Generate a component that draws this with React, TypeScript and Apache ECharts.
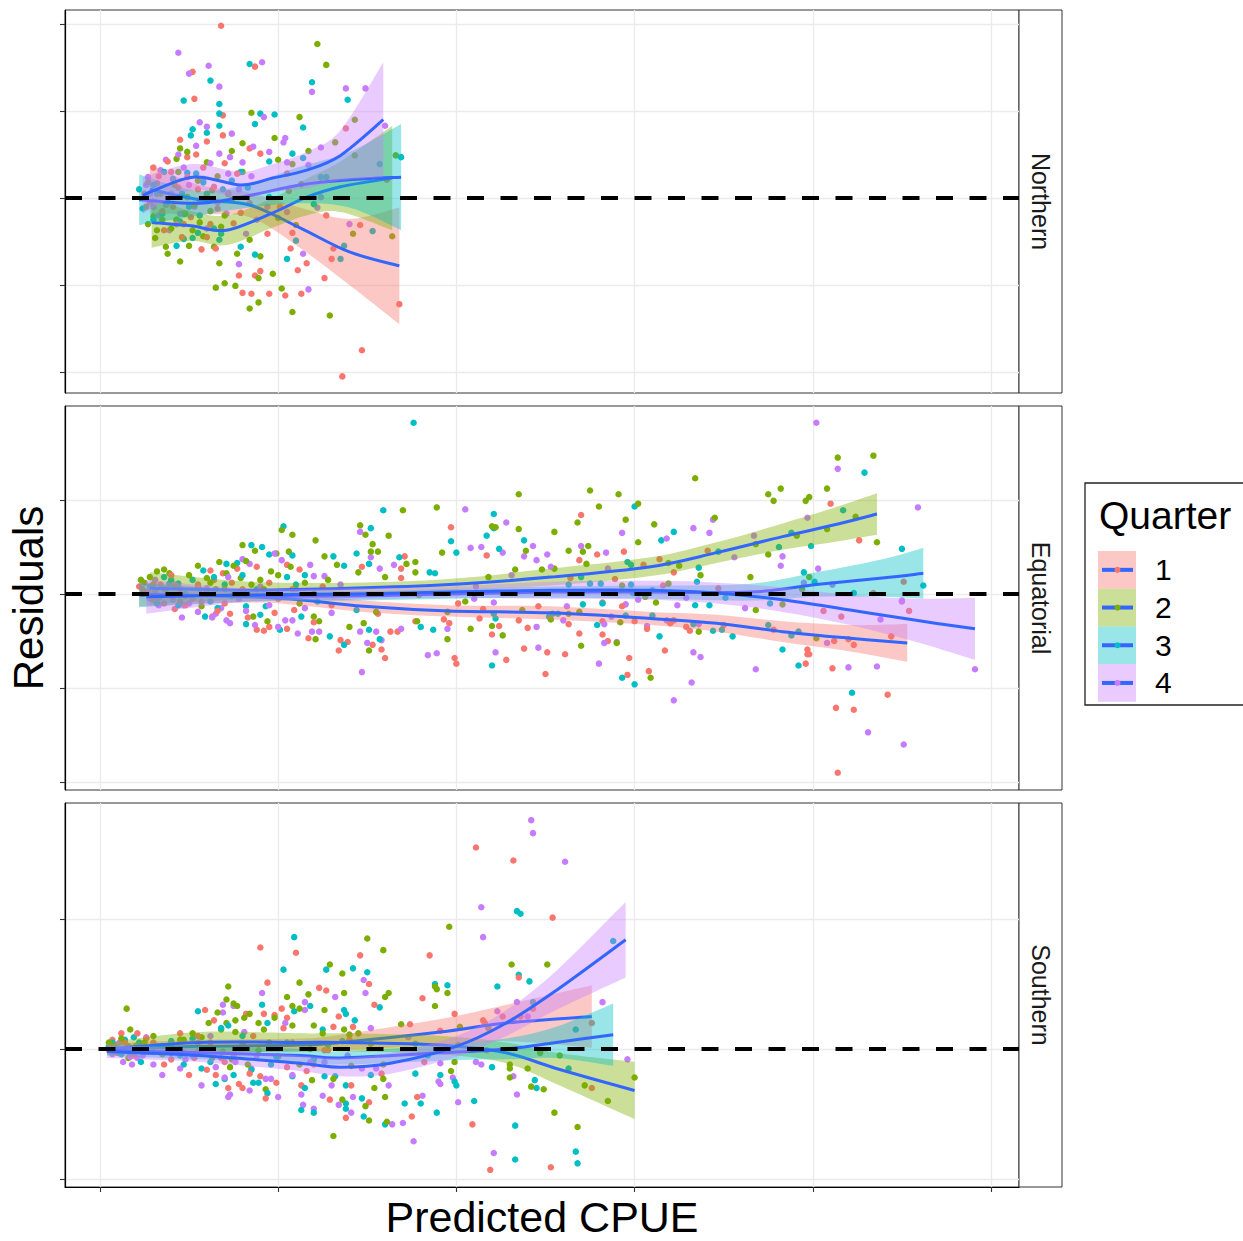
import React, { useEffect, useRef } from "react";
import * as echarts from "echarts";

// ---- groups and styling -------------------------------------------------
const QUARTERS = ["1", "2", "3", "4"];
const QUARTER_COLORS = ["#F8766D", "#7CAE00", "#00BFC4", "#C77CFF"];
const SMOOTH_COLOR = "#3366FF";
const REGIONS = ["Northern", "Equatorial", "Southern"];
const FONT = "'Liberation Sans', Arial, Helvetica, sans-serif";

// ---- axes (tick labels are blank, only tick positions are drawn) --------
const X_TICKS = [0, 1, 2, 3, 4, 5];
const X_MIN = -0.196;
const X_MAX = 5.157;
const NORTHERN_Y_TICKS = [-2, -1, 0, 1, 2];
const EQUATORIAL_Y_TICKS = [-2, -1, 0, 1, 2];
const SOUTHERN_Y_TICKS = [-1, 0, 1];
const NORTHERN_Y_RANGE = [-2.241, 2.161];
const EQUATORIAL_Y_RANGE = [-2.083, 1.998];
const SOUTHERN_Y_RANGE = [-1.062, 1.892];

// ---- residuals: [predicted CPUE, residual] ------------------------------
const northernQ1 = [[0.68,1.98],[0.52,1.45],[0.87,1.51],[0.53,1.14],[0.69,0.95],[0.45,0.67],[0.60,0.65],[0.69,0.72],[0.84,0.57],[0.30,0.35],[0.49,0.47],[1.05,0.28],[1.06,0.08],[1.38,0.80],[1.61,0.21],[1.27,-0.20],[1.46,-0.31],[1.31,-0.58],[1.30,-0.70],[1.26,-0.92],[1.16,-0.75],[1.11,-0.83],[1.07,-0.58],[0.95,-1.10],[1.04,-1.12],[1.13,-1.10],[0.85,-1.10],[0.80,-1.09],[0.78,-0.89],[0.87,-0.89],[0.90,-0.84],[1.68,-1.22],[1.47,-1.75],[1.36,-2.05],[0.79,-0.17],[0.75,-0.29],[0.57,-0.59],[0.65,-0.58],[0.36,-0.37],[0.41,-0.10],[0.64,0.13],[0.32,0.17],[0.94,-0.41],[1.01,-0.10],[0.84,-0.06],[1.08,-0.40],[0.49,0.24],[0.77,0.28],[0.90,0.51],[0.25,0.05],[0.40,0.30],[0.55,0.10],[0.62,-0.30],[0.70,0.40],[0.35,-0.15],[0.46,-0.45],[0.28,-0.05],[0.33,0.25],[0.44,0.12],[0.51,-0.22],[0.58,0.35],[0.66,-0.12],[0.72,0.05],[0.38,0.42],[0.47,-0.30],[0.60,-0.45],[0.27,0.18],[0.54,0.50]];
const northernQ2 = [[1.22,1.77],[1.27,1.53],[0.85,0.98],[1.12,0.93],[1.43,0.90],[1.32,0.64],[1.43,0.49],[1.66,0.49],[0.98,0.69],[0.80,0.63],[0.74,0.54],[0.49,0.53],[0.45,0.57],[0.43,0.45],[0.60,0.41],[1.08,0.39],[1.17,0.54],[1.13,0.16],[1.00,0.44],[0.80,0.30],[0.63,0.09],[0.49,0.01],[0.30,-0.21],[0.32,-0.37],[0.31,-0.46],[0.37,-0.56],[0.38,-0.64],[0.45,-0.73],[0.43,-0.25],[0.52,-0.37],[0.58,-0.44],[0.64,-0.56],[0.67,-0.75],[0.77,-0.64],[0.84,-0.48],[0.90,-0.67],[0.97,-0.87],[0.89,-0.92],[0.65,-1.03],[0.70,-0.98],[0.76,-1.01],[0.84,-1.27],[0.89,-1.20],[1.02,-1.04],[1.08,-1.31],[1.29,-1.35],[1.42,-0.41],[1.64,-0.44],[1.10,-0.31],[1.00,-0.23],[0.68,-0.33],[0.74,-0.02],[0.26,-0.10],[0.55,0.20],[0.62,-0.15],[0.40,-0.35],[0.27,-0.30],[0.34,0.05],[0.42,0.15],[0.48,-0.18],[0.56,-0.28],[0.60,0.02],[0.70,-0.20],[0.35,-0.25],[0.50,-0.55],[0.66,0.25],[0.44,0.30],[0.53,-0.08]];
const northernQ3 = [[0.84,1.54],[0.62,1.35],[1.19,1.33],[0.47,1.12],[1.39,1.13],[0.67,1.08],[0.67,0.97],[0.90,0.97],[0.98,0.96],[0.87,0.85],[0.67,0.83],[1.14,0.81],[0.52,0.79],[0.51,0.72],[0.60,0.75],[1.08,0.51],[1.14,0.46],[1.57,0.39],[1.69,0.47],[1.24,0.24],[1.27,0.24],[0.49,0.29],[0.54,0.28],[0.79,0.30],[0.95,0.42],[0.22,0.10],[0.24,-0.12],[0.43,-0.25],[0.45,-0.27],[0.47,-0.18],[0.43,-0.55],[0.47,-0.47],[0.52,-0.46],[0.67,-0.48],[0.68,-0.41],[0.79,-0.56],[0.87,-0.65],[1.05,-0.70],[1.10,-0.49],[1.37,-0.55],[1.35,-0.70],[1.53,-0.38],[1.20,-0.07],[0.72,0.05],[0.95,0.01],[0.32,0.05],[0.60,0.05],[0.30,0.15],[0.38,-0.05],[0.56,-0.20],[0.74,0.20],[0.26,0.02],[0.35,-0.18],[0.41,0.22],[0.50,-0.10],[0.58,0.18],[0.64,-0.35],[0.69,0.10],[0.36,0.30],[0.46,0.05],[0.55,-0.40],[0.83,0.12],[0.30,-0.25]];
const northernQ4 = [[0.44,1.67],[0.61,1.52],[0.50,1.43],[0.91,1.56],[0.67,1.28],[1.19,1.22],[1.38,1.26],[1.49,1.26],[0.92,0.93],[0.56,0.87],[0.60,0.82],[0.74,0.74],[1.04,0.69],[1.03,0.64],[1.60,0.83],[1.24,0.58],[1.17,0.38],[0.37,0.44],[0.27,0.24],[0.54,0.60],[0.67,0.51],[0.73,0.47],[0.80,0.41],[0.86,0.59],[1.05,0.41],[0.95,0.53],[1.24,0.01],[1.22,-0.11],[1.40,-0.30],[1.14,-0.64],[1.17,-1.05],[0.78,-0.76],[0.82,-0.41],[0.39,-0.37],[0.45,-0.18],[0.28,0.05],[0.71,-0.18],[0.94,-0.10],[1.05,-0.16],[0.56,-0.02],[0.34,0.32],[0.30,-0.10],[0.50,0.15],[0.62,0.40],[0.85,0.25],[0.43,-0.30],[0.60,-0.35],[0.26,0.15],[0.33,-0.20],[0.40,0.05],[0.47,0.35],[0.53,-0.10],[0.58,0.22],[0.66,-0.05],[0.72,0.28],[0.37,-0.08],[0.44,0.50],[0.78,0.10],[0.88,-0.25]];

const equatorialQ1 = [[1.97,0.71],[2.17,0.41],[1.71,0.40],[1.69,0.27],[1.69,0.17],[1.47,0.29],[1.05,0.31],[1.12,0.26],[0.88,0.29],[0.77,0.27],[0.69,0.22],[0.64,0.15],[0.22,0.08],[0.34,0.10],[0.36,-0.10],[0.42,-0.16],[0.57,-0.08],[0.63,-0.24],[0.73,-0.21],[0.88,-0.38],[0.92,-0.39],[0.95,-0.35],[1.05,-0.37],[1.09,-0.17],[1.17,-0.47],[1.35,-0.49],[1.39,-0.51],[1.34,-0.60],[1.53,-0.54],[1.58,-0.59],[1.60,-0.68],[1.63,-0.40],[1.67,-0.40],[1.56,-0.21],[1.77,-0.29],[1.93,-0.27],[1.96,-0.31],[1.99,-0.68],[2.00,-0.74],[2.01,-0.10],[2.13,-0.26],[2.24,-0.34],[2.20,-0.43],[2.28,-0.70],[2.38,-0.58],[2.40,-0.36],[2.50,-0.85],[2.51,-0.62],[2.46,-0.13],[2.35,-0.28],[2.15,-0.16],[2.70,0.84],[4.10,0.96],[4.26,0.57],[4.51,0.13],[3.41,0.46],[3.22,0.23],[3.05,0.31],[3.14,0.37],[2.94,0.45],[2.79,0.42],[2.69,0.36],[2.89,0.16],[3.16,0.09],[3.47,0.06],[2.64,0.17],[4.34,0.01],[4.54,-0.18],[4.06,-0.18],[4.16,-0.24],[4.50,-0.08],[2.82,-0.09],[2.63,-0.32],[2.69,-0.42],[2.82,-0.29],[2.82,-0.43],[2.85,-0.50],[2.93,-0.13],[3.00,-0.29],[3.07,-0.37],[3.20,-0.31],[3.22,-0.28],[3.29,-0.35],[3.31,-0.39],[3.50,-0.33],[3.78,-0.38],[2.61,-0.64],[2.97,-0.68],[2.96,-0.86],[3.08,-0.82],[3.17,-0.60],[3.97,-0.59],[3.97,-0.64],[3.98,-0.64],[3.96,-0.74],[4.12,-0.50],[4.20,-0.48],[4.23,-0.54],[4.11,-0.79],[4.44,-0.45],[4.42,-1.07],[4.13,-1.21],[4.23,-1.23],[4.14,-1.90],[0.27,0.02],[0.30,-0.06],[0.45,0.05],[0.52,-0.05],[0.60,0.02],[0.70,-0.10],[0.80,0.05],[0.95,0.12],[1.00,-0.05],[1.25,0.08],[1.30,-0.12],[0.24,0.05],[0.31,0.02],[0.48,-0.12],[0.55,0.10],[0.66,-0.18],[0.74,0.12],[0.83,-0.25],[0.98,-0.20],[1.08,0.05],[1.20,-0.30],[0.40,0.20],[0.62,0.25]];
const equatorialQ2 = [[2.35,1.06],[1.89,0.92],[1.70,0.89],[1.46,0.73],[1.02,0.68],[1.08,0.63],[1.21,0.57],[1.49,0.63],[1.62,0.62],[1.53,0.53],[0.80,0.52],[0.87,0.46],[0.99,0.43],[1.06,0.45],[1.26,0.40],[1.52,0.45],[1.56,0.45],[1.92,0.44],[2.20,0.72],[2.22,0.71],[2.35,0.69],[2.39,0.46],[2.55,0.66],[2.55,0.27],[2.33,0.26],[0.67,0.34],[0.36,0.26],[0.32,0.24],[0.39,0.22],[0.28,0.18],[0.60,0.17],[0.71,0.22],[0.79,0.17],[0.90,0.15],[0.96,0.24],[1.07,0.29],[1.33,0.31],[1.45,0.23],[1.60,0.18],[1.72,0.32],[1.77,0.34],[1.77,0.23],[2.18,0.18],[2.48,0.26],[0.57,-0.13],[0.94,-0.29],[0.86,-0.24],[1.20,-0.24],[1.23,-0.29],[1.40,-0.35],[1.48,-0.31],[1.51,-0.60],[1.21,-0.48],[1.55,-0.19],[1.78,-0.29],[1.95,-0.48],[1.95,-0.19],[2.08,-0.37],[2.26,-0.44],[2.20,-0.34],[2.37,-0.17],[1.79,-0.01],[2.05,-0.08],[3.34,1.23],[2.75,1.10],[2.91,1.06],[2.80,0.93],[3.02,0.96],[2.68,0.76],[2.95,0.79],[3.11,0.74],[3.45,0.81],[3.75,1.06],[3.78,0.99],[3.82,1.12],[3.96,0.99],[3.98,1.03],[4.08,1.12],[4.14,1.45],[4.34,1.47],[4.24,0.82],[4.08,0.69],[3.91,0.62],[3.68,0.53],[3.75,0.42],[4.36,0.55],[3.02,0.55],[2.71,0.45],[2.74,0.51],[2.63,0.46],[2.73,0.32],[2.93,0.09],[3.19,0.11],[3.19,0.33],[3.25,0.30],[3.37,0.20],[3.65,0.18],[3.98,0.18],[3.94,0.05],[3.12,-0.09],[3.06,-0.03],[3.68,-0.17],[3.83,-0.11],[2.63,-0.21],[2.69,-0.19],[2.92,-0.30],[3.36,-0.40],[2.90,-0.52],[2.70,-0.55],[3.09,-0.89],[4.02,-0.47],[2.53,-0.27],[0.25,0.12],[0.42,0.08],[0.50,0.20],[0.65,0.05],[0.75,0.30],[0.85,0.10],[1.15,0.12],[0.45,-0.08],[0.23,0.15],[0.30,0.10],[0.37,0.05],[0.55,0.30],[0.62,0.12],[0.70,0.05],[0.82,0.35],[0.92,0.05],[1.00,0.20],[1.12,-0.10],[1.28,0.15],[0.48,-0.02]];
const equatorialQ3 = [[1.76,1.82],[1.59,0.89],[1.03,0.72],[1.52,0.70],[2.21,0.85],[2.17,0.62],[2.21,0.70],[1.97,0.56],[2.00,0.44],[2.38,0.57],[2.24,0.48],[0.91,0.50],[0.85,0.52],[0.95,0.42],[1.08,0.41],[1.44,0.43],[1.31,0.40],[1.37,0.30],[1.51,0.32],[1.68,0.39],[1.85,0.23],[1.88,0.22],[0.71,0.32],[0.77,0.33],[0.39,0.11],[0.44,0.11],[0.64,0.18],[1.05,0.18],[1.15,0.20],[0.82,-0.13],[0.93,-0.13],[0.82,-0.32],[0.59,-0.24],[1.13,-0.24],[1.01,-0.38],[1.29,-0.45],[1.37,-0.54],[1.51,-0.38],[1.57,-0.48],[1.80,-0.35],[1.87,-0.38],[2.21,-0.21],[2.22,-0.26],[2.20,-0.76],[2.52,-0.24],[2.54,-0.21],[1.22,-0.08],[1.44,-0.17],[3.00,0.93],[3.22,0.66],[3.15,0.57],[4.17,0.89],[4.29,1.29],[3.88,0.65],[3.99,0.51],[3.81,0.50],[3.47,0.45],[3.36,0.28],[3.35,0.13],[2.96,0.34],[2.98,0.31],[2.70,0.18],[2.75,0.11],[2.81,0.11],[2.98,0.10],[2.63,0.10],[3.95,0.23],[4.01,0.13],[4.23,0.01],[4.50,0.48],[4.62,0.09],[3.51,-0.04],[3.10,0.04],[2.99,0.01],[2.82,-0.10],[3.42,-0.12],[3.34,-0.12],[3.76,-0.10],[2.71,-0.11],[2.57,-0.21],[2.79,-0.33],[2.95,-0.23],[3.10,-0.23],[3.33,-0.32],[3.44,-0.39],[3.49,-0.38],[3.55,-0.45],[3.75,-0.33],[3.92,-0.40],[3.88,-0.44],[3.14,-0.45],[3.83,-0.59],[3.92,-0.76],[2.93,-0.89],[3.00,-0.96],[4.22,-1.05],[0.25,0.02],[0.33,-0.04],[0.48,0.00],[0.55,0.08],[0.62,-0.08],[0.70,0.10],[0.88,0.05],[1.00,0.00],[0.40,0.15],[0.28,0.08],[0.36,0.18],[0.44,-0.12],[0.52,0.15],[0.58,0.25],[0.66,-0.15],[0.74,-0.02],[0.80,0.20],[0.90,-0.22],[1.10,0.10],[1.20,0.00],[0.32,-0.10]];
const equatorialQ4 = [[2.05,0.90],[2.28,0.76],[2.08,0.49],[2.14,0.50],[2.26,0.44],[2.43,0.51],[2.38,0.40],[2.51,0.42],[2.45,0.36],[2.31,0.20],[1.46,0.66],[1.57,0.27],[1.52,0.39],[1.65,0.31],[1.18,0.31],[1.20,0.19],[1.26,0.19],[1.02,0.36],[0.98,0.43],[0.80,0.37],[0.84,0.32],[0.31,0.15],[0.47,-0.12],[0.41,-0.06],[0.55,-0.19],[0.65,-0.21],[0.71,-0.28],[0.73,-0.31],[0.87,-0.33],[1.04,-0.28],[1.08,-0.28],[1.11,-0.42],[1.19,-0.40],[1.23,-0.40],[1.46,-0.40],[1.55,-0.40],[1.58,-0.49],[1.50,-0.52],[1.47,-0.83],[1.69,-0.37],[1.84,-0.65],[1.89,-0.63],[1.95,-0.37],[2.10,-0.05],[2.21,-0.09],[2.22,-0.62],[2.46,-0.57],[2.45,-0.35],[2.11,0.08],[4.02,1.82],[4.14,1.33],[4.59,0.92],[3.97,0.81],[3.44,0.79],[3.33,0.70],[3.42,0.65],[3.18,0.59],[2.93,0.65],[3.67,0.62],[3.82,0.30],[3.83,0.40],[4.03,0.27],[3.56,0.39],[2.70,0.51],[2.84,0.44],[2.85,0.27],[3.95,0.12],[4.11,0.10],[3.29,-0.04],[3.24,-0.12],[3.02,-0.06],[3.62,-0.15],[2.95,-0.11],[2.62,-0.13],[2.60,-0.28],[2.83,-0.32],[2.87,-0.24],[3.07,-0.34],[3.18,-0.28],[3.36,-0.32],[2.83,-0.52],[2.90,-0.51],[2.80,-0.74],[3.33,-0.62],[3.37,-0.67],[3.32,-0.94],[3.22,-1.13],[3.68,-0.80],[4.08,-0.52],[4.20,-0.78],[4.36,-0.77],[4.38,-0.27],[4.50,-0.07],[4.31,-1.47],[4.51,-1.60],[4.91,-0.80],[2.53,0.29],[0.28,-0.05],[0.36,0.05],[0.50,-0.10],[0.60,0.06],[0.68,-0.15],[0.78,-0.05],[0.95,-0.12],[1.10,0.05],[1.30,-0.20],[0.24,0.00],[0.33,-0.12],[0.42,0.10],[0.56,0.05],[0.63,-0.25],[0.72,0.18],[0.82,-0.18],[0.90,0.08],[1.00,-0.35],[1.15,-0.15],[1.35,0.10],[0.46,-0.25]];

const southernQ1 = [[0.90,0.78],[1.10,0.74],[0.94,0.51],[0.59,0.30],[0.64,0.22],[0.82,0.27],[0.92,0.27],[0.98,0.26],[1.02,0.31],[1.05,0.24],[1.03,0.16],[1.23,0.47],[1.27,0.45],[1.34,0.25],[1.46,0.72],[1.51,0.50],[1.54,0.34],[1.31,0.17],[1.42,0.17],[1.40,0.07],[0.12,0.12],[0.21,0.12],[0.22,0.04],[0.07,0.07],[0.47,-0.03],[0.53,-0.07],[0.60,-0.16],[0.68,-0.07],[0.70,-0.10],[0.72,-0.30],[0.78,-0.27],[0.80,-0.30],[0.84,-0.19],[0.90,-0.21],[0.93,-0.38],[0.99,-0.26],[1.05,-0.14],[1.13,-0.28],[1.16,-0.17],[1.26,-0.01],[1.28,-0.01],[1.29,-0.39],[1.38,-0.53],[1.41,-0.28],[1.51,-0.41],[1.58,-0.19],[2.11,1.55],[2.32,1.45],[2.54,1.01],[1.85,0.72],[2.35,0.55],[2.43,0.31],[2.26,0.25],[2.36,0.25],[2.32,0.22],[2.15,0.22],[2.16,0.20],[1.99,0.27],[1.91,0.14],[1.74,0.19],[1.81,0.39],[1.82,-0.10],[2.17,-0.01],[2.76,0.20],[2.76,-0.30],[1.78,-0.37],[1.75,-0.52],[2.09,-0.58],[2.19,-0.93],[2.53,-0.91],[0.10,-0.03],[0.16,0.02],[0.30,0.05],[0.40,-0.08],[0.55,0.10],[0.65,-0.20],[0.06,0.03],[0.14,0.05],[0.19,-0.05],[0.26,0.08],[0.36,-0.12],[0.45,0.12],[0.50,-0.20],[0.62,0.05],[0.75,-0.05],[0.86,0.10],[1.08,0.05],[1.20,-0.12]];
const southernQ2 = [[0.15,0.31],[0.17,0.15],[0.16,-0.07],[0.45,0.07],[0.47,0.07],[0.57,0.09],[0.61,0.20],[0.71,0.38],[0.72,0.48],[0.75,0.35],[0.77,0.33],[0.76,0.22],[0.71,0.20],[0.81,0.24],[0.68,0.15],[0.76,0.13],[0.69,-0.02],[0.63,-0.07],[0.74,-0.08],[0.73,-0.14],[0.80,0.04],[0.84,0.27],[0.89,0.20],[0.92,0.15],[0.98,0.24],[0.89,-0.01],[1.00,-0.06],[0.93,-0.31],[1.12,0.51],[1.08,0.33],[1.12,0.31],[1.17,0.42],[1.20,0.18],[1.08,0.18],[1.12,-0.12],[1.26,0.30],[1.29,0.65],[1.36,0.58],[1.37,0.43],[1.37,0.15],[1.40,0.11],[1.45,0.12],[1.50,0.85],[1.59,0.76],[1.60,0.40],[1.62,0.43],[1.52,0.04],[1.59,-0.12],[1.59,-0.23],[1.54,-0.30],[1.60,-0.37],[1.36,-0.39],[1.31,-0.23],[1.19,-0.24],[1.31,-0.67],[1.51,-0.55],[1.49,-0.44],[1.61,-0.56],[1.41,-0.13],[1.96,0.94],[1.88,0.48],[1.89,0.46],[1.95,0.43],[1.88,0.33],[2.02,0.17],[2.18,0.16],[2.31,0.65],[2.51,0.65],[1.69,0.19],[2.01,0.03],[1.99,-0.10],[1.97,-0.17],[2.30,-0.12],[2.30,-0.15],[2.30,-0.22],[2.40,-0.15],[2.42,-0.29],[2.49,-0.31],[2.55,-0.49],[2.68,-0.60],[2.72,-0.28],[2.85,-0.40],[3.00,-0.22],[2.47,-0.03],[2.58,-0.05],[0.08,0.02],[0.25,0.05],[0.35,-0.04],[0.52,0.12],[0.05,0.05],[0.12,0.08],[0.20,0.02],[0.30,0.10],[0.40,0.03],[0.55,-0.02],[0.66,0.28],[0.83,-0.12],[0.95,0.05],[1.05,0.40],[1.18,0.00],[1.25,0.12]];
const southernQ3 = [[1.09,0.86],[1.03,0.61],[1.27,0.61],[1.42,0.62],[1.50,0.59],[1.57,0.32],[1.37,0.30],[1.38,0.27],[1.43,0.22],[1.09,0.29],[1.18,0.33],[0.91,0.34],[0.94,0.20],[0.72,0.18],[0.55,0.29],[0.68,0.16],[0.14,0.07],[0.19,0.09],[0.10,-0.01],[0.23,-0.10],[0.47,-0.12],[0.57,-0.15],[0.70,-0.23],[0.75,-0.20],[0.65,-0.27],[0.85,-0.16],[0.86,-0.26],[0.94,-0.34],[0.89,-0.26],[0.99,-0.06],[1.08,-0.21],[1.13,-0.47],[1.20,-0.49],[1.20,-0.08],[1.26,-0.21],[1.32,-0.21],[1.38,-0.28],[1.38,-0.42],[1.38,-0.46],[1.47,-0.38],[1.48,-0.52],[1.52,-0.20],[1.60,-0.58],[1.28,0.03],[1.36,0.06],[2.88,0.83],[2.34,1.06],[2.36,1.04],[2.35,0.57],[2.41,0.52],[2.43,0.36],[2.23,0.48],[1.88,0.50],[1.95,0.49],[1.77,0.04],[1.84,-0.05],[2.20,-0.14],[1.91,-0.20],[1.99,-0.25],[2.00,-0.28],[1.77,-0.19],[1.71,-0.42],[1.89,-0.49],[1.80,-0.42],[2.10,-0.40],[2.33,-0.59],[2.33,-0.85],[2.44,-0.24],[2.45,-0.30],[2.63,-0.15],[2.67,0.15],[2.67,-0.79],[2.68,-0.88],[0.05,0.02],[0.12,-0.04],[0.30,-0.02],[0.40,0.06],[0.07,0.05],[0.16,-0.02],[0.22,0.05],[0.35,0.02],[0.45,-0.05],[0.52,0.08],[0.62,-0.10],[0.80,0.10],[0.96,-0.12],[1.05,0.05],[1.15,-0.30],[1.25,0.15]];
const southernQ4 = [[0.91,0.43],[0.69,0.34],[0.69,0.28],[0.75,0.33],[1.15,0.36],[1.15,0.30],[1.32,0.40],[1.48,0.53],[1.49,0.43],[1.52,0.16],[1.04,0.20],[0.81,0.13],[0.26,0.09],[0.05,-0.01],[0.17,-0.06],[0.21,-0.07],[0.40,-0.03],[0.48,-0.08],[0.65,-0.14],[0.76,-0.10],[0.85,-0.15],[0.93,-0.23],[0.96,-0.23],[0.84,-0.32],[0.73,-0.35],[0.72,-0.37],[0.57,-0.28],[1.00,-0.37],[1.13,-0.35],[1.14,-0.43],[1.20,-0.46],[1.25,-0.36],[1.30,-0.28],[1.34,-0.43],[1.42,-0.37],[1.41,-0.49],[1.47,-0.15],[1.55,-0.15],[1.62,-0.28],[1.64,-0.58],[1.39,-0.05],[1.26,-0.10],[2.42,1.76],[2.43,1.66],[2.61,1.44],[2.14,1.09],[2.15,0.86],[2.34,0.36],[2.23,0.29],[2.40,0.25],[2.82,0.36],[2.96,-0.08],[2.11,-0.10],[2.14,-0.12],[1.98,-0.22],[1.91,-0.11],[1.90,-0.25],[1.91,-0.27],[2.01,-0.41],[2.32,-0.21],[2.34,-0.35],[2.21,-0.80],[1.76,-0.71],[1.70,-0.57],[1.81,-0.36],[1.73,0.09],[0.09,0.03],[0.13,-0.10],[0.30,-0.12],[0.55,0.05],[0.07,-0.04],[0.11,0.05],[0.18,-0.12],[0.24,-0.05],[0.35,-0.20],[0.45,-0.15],[0.52,-0.05],[0.62,0.10],[0.70,-0.22],[0.88,-0.05],[1.08,-0.20],[1.18,-0.10]];

// ---- loess fits: [predicted CPUE, fitted residual, CI half-width] --------
const northernSmoothQ1 = [[0.28,0.10,0.28],[0.56,-0.02,0.17],[0.84,-0.08,0.14],[1.12,-0.34,0.23],[1.40,-0.62,0.38],[1.68,-0.78,0.67]];
const northernSmoothQ2 = [[0.29,-0.28,0.29],[0.51,-0.32,0.17],[0.71,-0.37,0.17],[0.97,-0.17,0.17],[1.16,0.01,0.21],[1.35,0.13,0.29],[1.64,0.23,0.60]];
const northernSmoothQ3 = [[0.22,-0.02,0.29],[0.56,-0.06,0.14],[0.84,0.03,0.14],[1.12,0.15,0.21],[1.40,0.21,0.32],[1.69,0.24,0.61]];
const northernSmoothQ4 = [[0.24,0.03,0.21],[0.52,0.24,0.15],[0.79,0.15,0.15],[0.97,0.23,0.16],[1.16,0.32,0.21],[1.35,0.49,0.29],[1.59,0.90,0.66]];

const equatorialSmoothQ1 = [[0.22,0,0.13],[0.84,-0.03,0.06],[1.12,-0.06,0.06],[1.48,-0.13,0.06],[1.96,-0.18,0.06],[2.53,-0.20,0.07],[3.09,-0.26,0.07],[3.46,-0.31,0.09],[3.83,-0.40,0.11],[4.21,-0.47,0.14],[4.53,-0.52,0.20]];
const equatorialSmoothQ2 = [[0.28,0.06,0.17],[0.84,0.04,0.09],[1.40,0.06,0.06],[1.96,0.10,0.06],[2.53,0.18,0.09],[3.09,0.29,0.10],[3.46,0.44,0.11],[3.83,0.61,0.14],[4.11,0.73,0.18],[4.36,0.85,0.22]];
const equatorialSmoothQ3 = [[0.22,-0.01,0.13],[0.84,-0.02,0.06],[1.40,-0.02,0.05],[1.96,0,0.05],[2.53,0.02,0.06],[3.09,0.02,0.07],[3.65,0.02,0.09],[4.02,0.10,0.13],[4.39,0.17,0.20],[4.62,0.22,0.27]];
const equatorialSmoothQ4 = [[0.26,-0.03,0.18],[0.84,-0.01,0.07],[1.40,0,0.06],[1.96,0.02,0.06],[2.53,0.04,0.09],[3.09,0.04,0.10],[3.46,0.01,0.11],[3.83,-0.06,0.13],[4.21,-0.17,0.16],[4.58,-0.28,0.23],[4.91,-0.37,0.33]];

const southernSmoothQ1 = [[0.04,0,0.04],[0.56,0.02,0.05],[1.12,0.03,0.05],[1.35,0.05,0.06],[1.91,0.13,0.10],[2.28,0.20,0.14],[2.76,0.25,0.24]];
const southernSmoothQ2 = [[0.04,0,0.05],[0.56,0.05,0.08],[1.12,0.05,0.07],[1.35,0.05,0.07],[1.91,0.03,0.07],[2.28,-0.03,0.08],[2.56,-0.15,0.12],[3.00,-0.32,0.22]];
const southernSmoothQ3 = [[0.04,-0.01,0.04],[0.56,-0.03,0.05],[1.12,-0.05,0.05],[1.35,-0.07,0.05],[1.91,-0.03,0.06],[2.28,0,0.08],[2.56,0.05,0.12],[2.88,0.11,0.24]];
const southernSmoothQ4 = [[0.04,-0.02,0.05],[0.56,-0.05,0.05],[1.12,-0.11,0.06],[1.35,-0.14,0.07],[1.63,-0.11,0.08],[2.00,0.02,0.08],[2.28,0.20,0.10],[2.56,0.45,0.15],[2.95,0.84,0.29]];

// ---- panel assembly ----------------------------------------------------
const PANELS = [
  { points: [northernQ1, northernQ2, northernQ3, northernQ4], smooth: [northernSmoothQ1, northernSmoothQ2, northernSmoothQ3, northernSmoothQ4], yTicks: NORTHERN_Y_TICKS, yRange: NORTHERN_Y_RANGE },
  { points: [equatorialQ1, equatorialQ2, equatorialQ3, equatorialQ4], smooth: [equatorialSmoothQ1, equatorialSmoothQ2, equatorialSmoothQ3, equatorialSmoothQ4], yTicks: EQUATORIAL_Y_TICKS, yRange: EQUATORIAL_Y_RANGE },
  { points: [southernQ1, southernQ2, southernQ3, southernQ4], smooth: [southernSmoothQ1, southernSmoothQ2, southernSmoothQ3, southernSmoothQ4], yTicks: SOUTHERN_Y_TICKS, yRange: SOUTHERN_Y_RANGE },
];

// layout (pixels)
const PANEL_LEFT = 65;
const PANEL_RIGHT = 1019;
const STRIP_WIDTH = 43;
const PANEL_BOUNDS = [[10, 393], [406, 790], [803, 1187]];

function rgba(hex: string, a: number) {
  const n = parseInt(hex.slice(1), 16);
  return `rgba(${(n >> 16) & 255},${(n >> 8) & 255},${n & 255},${a})`;
}

// rows drawn in record order, so groups overlap as in the source data
function interleave(groups: number[][][]) {
  const out: number[][] = [];
  const n = Math.max(...groups.map((g) => g.length));
  for (let i = 0; i < n; i++) {
    groups.forEach((g, q) => {
      if (i < g.length) out.push([g[i][0], g[i][1], q]);
    });
  }
  return out;
}

// Catmull-Rom spline through pixel points, as cubic bezier path commands
function curve(pts: number[][], start: "M" | "L") {
  let d = `${start}${pts[0][0]},${pts[0][1]}`;
  for (let i = 0; i < pts.length - 1; i++) {
    const p0 = pts[i - 1] || pts[i];
    const p1 = pts[i];
    const p2 = pts[i + 1];
    const p3 = pts[i + 2] || p2;
    const c1x = p1[0] + (p2[0] - p0[0]) / 6;
    const c1y = p1[1] + (p2[1] - p0[1]) / 6;
    const c2x = p2[0] - (p3[0] - p1[0]) / 6;
    const c2y = p2[1] - (p3[1] - p1[1]) / 6;
    d += ` C${c1x},${c1y} ${c2x},${c2y} ${p2[0]},${p2[1]}`;
  }
  return d;
}

function smoothRenderer(fit: number[][], color: string) {
  return (params: any, api: any) => {
    if (params.dataIndex !== 0) return null;
    const upper = fit.map((p) => api.coord([p[0], p[1] + p[2]]));
    const lower = fit.map((p) => api.coord([p[0], p[1] - p[2]]));
    const mid = fit.map((p) => api.coord([p[0], p[1]]));
    const band = curve(upper, "M") + " " + curve(lower.slice().reverse(), "L") + " Z";
    return {
      type: "group",
      children: [
        { type: "path", shape: { pathData: band }, style: { fill: rgba(color, 0.4), stroke: null } },
        { type: "path", shape: { pathData: curve(mid, "M") }, style: { fill: null, stroke: SMOOTH_COLOR, lineWidth: 3 } },
      ],
    };
  };
}

function buildOption() {
  const grid: any[] = [];
  const xAxis: any[] = [];
  const yAxis: any[] = [];
  const series: any[] = [];
  const graphic: any[] = [];

  PANELS.forEach((panel, p) => {
    const [top, bottom] = PANEL_BOUNDS[p];
    const isBottom = p === PANELS.length - 1;
    grid.push({
      left: PANEL_LEFT,
      top,
      width: PANEL_RIGHT - PANEL_LEFT,
      height: bottom - top,
      show: true,
      backgroundColor: "#FFFFFF",
      borderColor: "#333333",
      borderWidth: 1,
    });
    xAxis.push({
      type: "value",
      gridIndex: p,
      min: X_MIN,
      max: X_MAX,
      axisLine: { show: isBottom, onZero: false, lineStyle: { color: "#000000", width: 1.2 } },
      axisTick: { show: isBottom, length: 5, customValues: X_TICKS, lineStyle: { color: "#333333", width: 1.1 } },
      axisLabel: { show: false, customValues: X_TICKS },
      splitLine: { show: true, lineStyle: { color: "#EBEBEB", width: 1.3 } },
    });
    yAxis.push({
      type: "value",
      gridIndex: p,
      min: panel.yRange[0],
      max: panel.yRange[1],
      axisLine: { show: true, onZero: false, lineStyle: { color: "#000000", width: 1.2 } },
      axisTick: { show: true, length: 5, customValues: panel.yTicks, lineStyle: { color: "#333333", width: 1.1 } },
      axisLabel: { show: false, customValues: panel.yTicks },
      splitLine: { show: true, lineStyle: { color: "#EBEBEB", width: 1.3 } },
    });

    series.push({
      type: "scatter",
      xAxisIndex: p,
      yAxisIndex: p,
      data: interleave(panel.points),
      symbol: "circle",
      symbolSize: 6.5,
      itemStyle: { opacity: 1, color: (d: any) => QUARTER_COLORS[d.data[2]] },
      silent: true,
      z: 2,
    });

    panel.smooth.forEach((fit, q) => {
      series.push({
        type: "custom",
        xAxisIndex: p,
        yAxisIndex: p,
        data: fit,
        renderItem: smoothRenderer(fit, QUARTER_COLORS[q]),
        silent: true,
        z: 3,
      });
    });

    series.push({
      type: "line",
      xAxisIndex: p,
      yAxisIndex: p,
      data: [[X_MIN, 0], [X_MAX, 0]],
      symbol: "none",
      lineStyle: { color: "#000000", width: 4, type: [17, 16.5] },
      silent: true,
      z: 4,
    });

    // facet strip on the right
    graphic.push({
      type: "rect",
      shape: { x: PANEL_RIGHT, y: top, width: STRIP_WIDTH, height: bottom - top },
      style: { fill: "#FFFFFF", stroke: "#333333", lineWidth: 1 },
    });
    graphic.push({
      type: "text",
      x: PANEL_RIGHT + STRIP_WIDTH / 2,
      y: (top + bottom) / 2,
      rotation: -Math.PI / 2,
      style: {
        text: REGIONS[p],
        font: `25px ${FONT}`,
        fill: "#1A1A1A",
        textAlign: "center",
        textVerticalAlign: "middle",
      },
    });
  });

  // axis titles
  graphic.push({
    type: "text",
    x: 28,
    y: 598,
    rotation: Math.PI / 2,
    style: { text: "Residuals", font: `42px ${FONT}`, fill: "#000000", textAlign: "center", textVerticalAlign: "middle" },
  });
  graphic.push({
    type: "text",
    x: 542,
    y: 1217,
    style: { text: "Predicted CPUE", font: `43px ${FONT}`, fill: "#000000", textAlign: "center", textVerticalAlign: "middle" },
  });

  // legend
  graphic.push({
    type: "rect",
    shape: { x: 1085, y: 483, width: 200, height: 222 },
    style: { fill: "#FFFFFF", stroke: "#222222", lineWidth: 1.3 },
  });
  graphic.push({
    type: "text",
    x: 1099,
    y: 515,
    style: { text: "Quarter", font: `39px ${FONT}`, fill: "#000000", textAlign: "left", textVerticalAlign: "middle" },
  });
  const keyH = 37.7;
  QUARTERS.forEach((label, q) => {
    const y0 = 551 + q * keyH;
    const cy = y0 + keyH / 2;
    graphic.push({
      type: "rect",
      shape: { x: 1098, y: y0, width: 38, height: keyH },
      style: { fill: rgba(QUARTER_COLORS[q], 0.4), stroke: null },
    });
    graphic.push({
      type: "line",
      shape: { x1: 1102, y1: cy, x2: 1133, y2: cy },
      style: { stroke: SMOOTH_COLOR, lineWidth: 4 },
    });
    graphic.push({
      type: "circle",
      shape: { cx: 1117.5, cy, r: 3 },
      style: { fill: QUARTER_COLORS[q] },
    });
    graphic.push({
      type: "text",
      x: 1155,
      y: cy,
      style: { text: label, font: `30px ${FONT}`, fill: "#000000", textAlign: "left", textVerticalAlign: "middle" },
    });
  });

  return {
    animation: false,
    backgroundColor: "#FFFFFF",
    grid,
    xAxis,
    yAxis,
    series,
    graphic,
  };
}

export default function App() {
  const ref = useRef<HTMLDivElement>(null);
  useEffect(() => {
    if (!ref.current) return;
    const chart = echarts.init(ref.current, undefined, { renderer: "svg" });
    chart.setOption(buildOption() as any);
    return () => chart.dispose();
  }, []);
  return <div ref={ref} style={{ position: "absolute", left: 0, top: 0, width: 1243, height: 1241 }} />;
}
